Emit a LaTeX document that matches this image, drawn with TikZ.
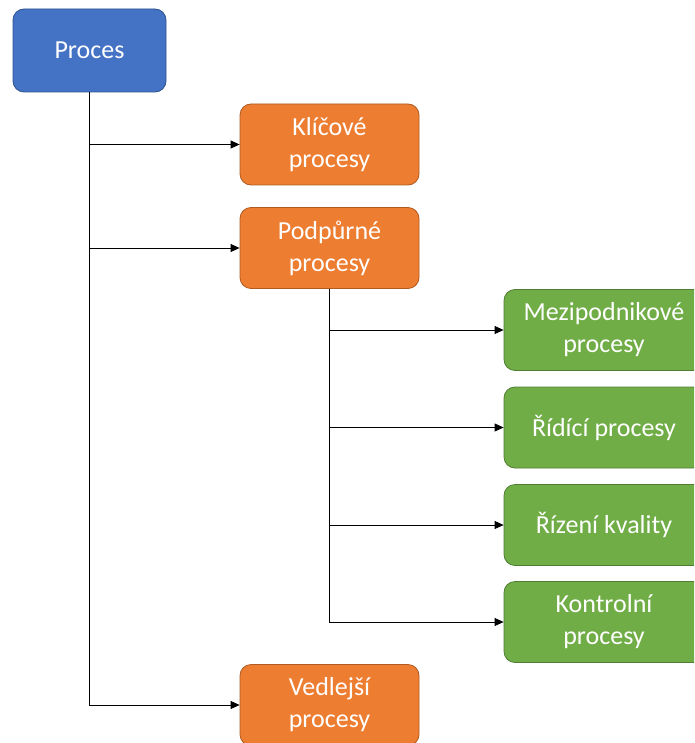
\documentclass[tikz,border=0pt]{standalone}
\usepackage{fontspec}
\setmainfont{Carlito}
\usetikzlibrary{arrows.meta}
\definecolor{bluefill}{HTML}{4472C4}
\definecolor{blueline}{HTML}{2F528F}
\definecolor{orangefill}{HTML}{ED7D31}
\definecolor{orangeline}{HTML}{AE5A21}
\definecolor{greenfill}{HTML}{70AD47}
\definecolor{greenline}{HTML}{507E32}
\tikzset{
  box/.style={rounded corners=11pt, line width=0.8pt, text=white, align=center,
    inner sep=0pt, font=\fontsize{26}{32}\selectfont},
  rootbox/.style={box, fill=bluefill, draw=blueline, minimum width=153pt, minimum height=83pt},
  midbox/.style={box, fill=orangefill, draw=orangeline, minimum width=179pt, minimum height=81pt},
  leafbox/.style={box, fill=greenfill, draw=greenline, minimum width=200pt, minimum height=81pt},
  link/.style={line width=0.8pt, -{Triangle[length=9pt,width=8pt]}}
}
\begin{document}
\begin{tikzpicture}[x=1pt,y=-1pt]
\useasboundingbox (0,0) rectangle (694,743);
\clip (0,0) rectangle (694,743);
% top-level process
\node[rootbox] (proces) at (89.5,50.5) {Proces};
% second level
\node[midbox] (klic) at (329.5,144.5) {Klíčové\\procesy};
\node[midbox] (podp) at (329.5,248) {Podpůrné\\procesy};
\node[midbox] (vedl) at (329.5,705) {Vedlejší\\procesy};
% supporting processes
\node[leafbox] (mezi) at (604,330) {Mezipodnikové\\procesy};
\node[leafbox] (ridi) at (604,427.5) {Řídící procesy};
\node[leafbox] (kval) at (604,525) {Řízení kvality};
\node[leafbox] (kont) at (604,622) {Kontrolní\\procesy};
% connectors
\draw[link] (proces.south) |- (klic.west);
\draw[link] (proces.south) |- (podp.west);
\draw[link] (proces.south) |- (vedl.west);
\draw[link] (podp.south) |- (mezi.west);
\draw[link] (podp.south) |- (ridi.west);
\draw[link] (podp.south) |- (kval.west);
\draw[link] (podp.south) |- (kont.west);
\end{tikzpicture}
\end{document}
